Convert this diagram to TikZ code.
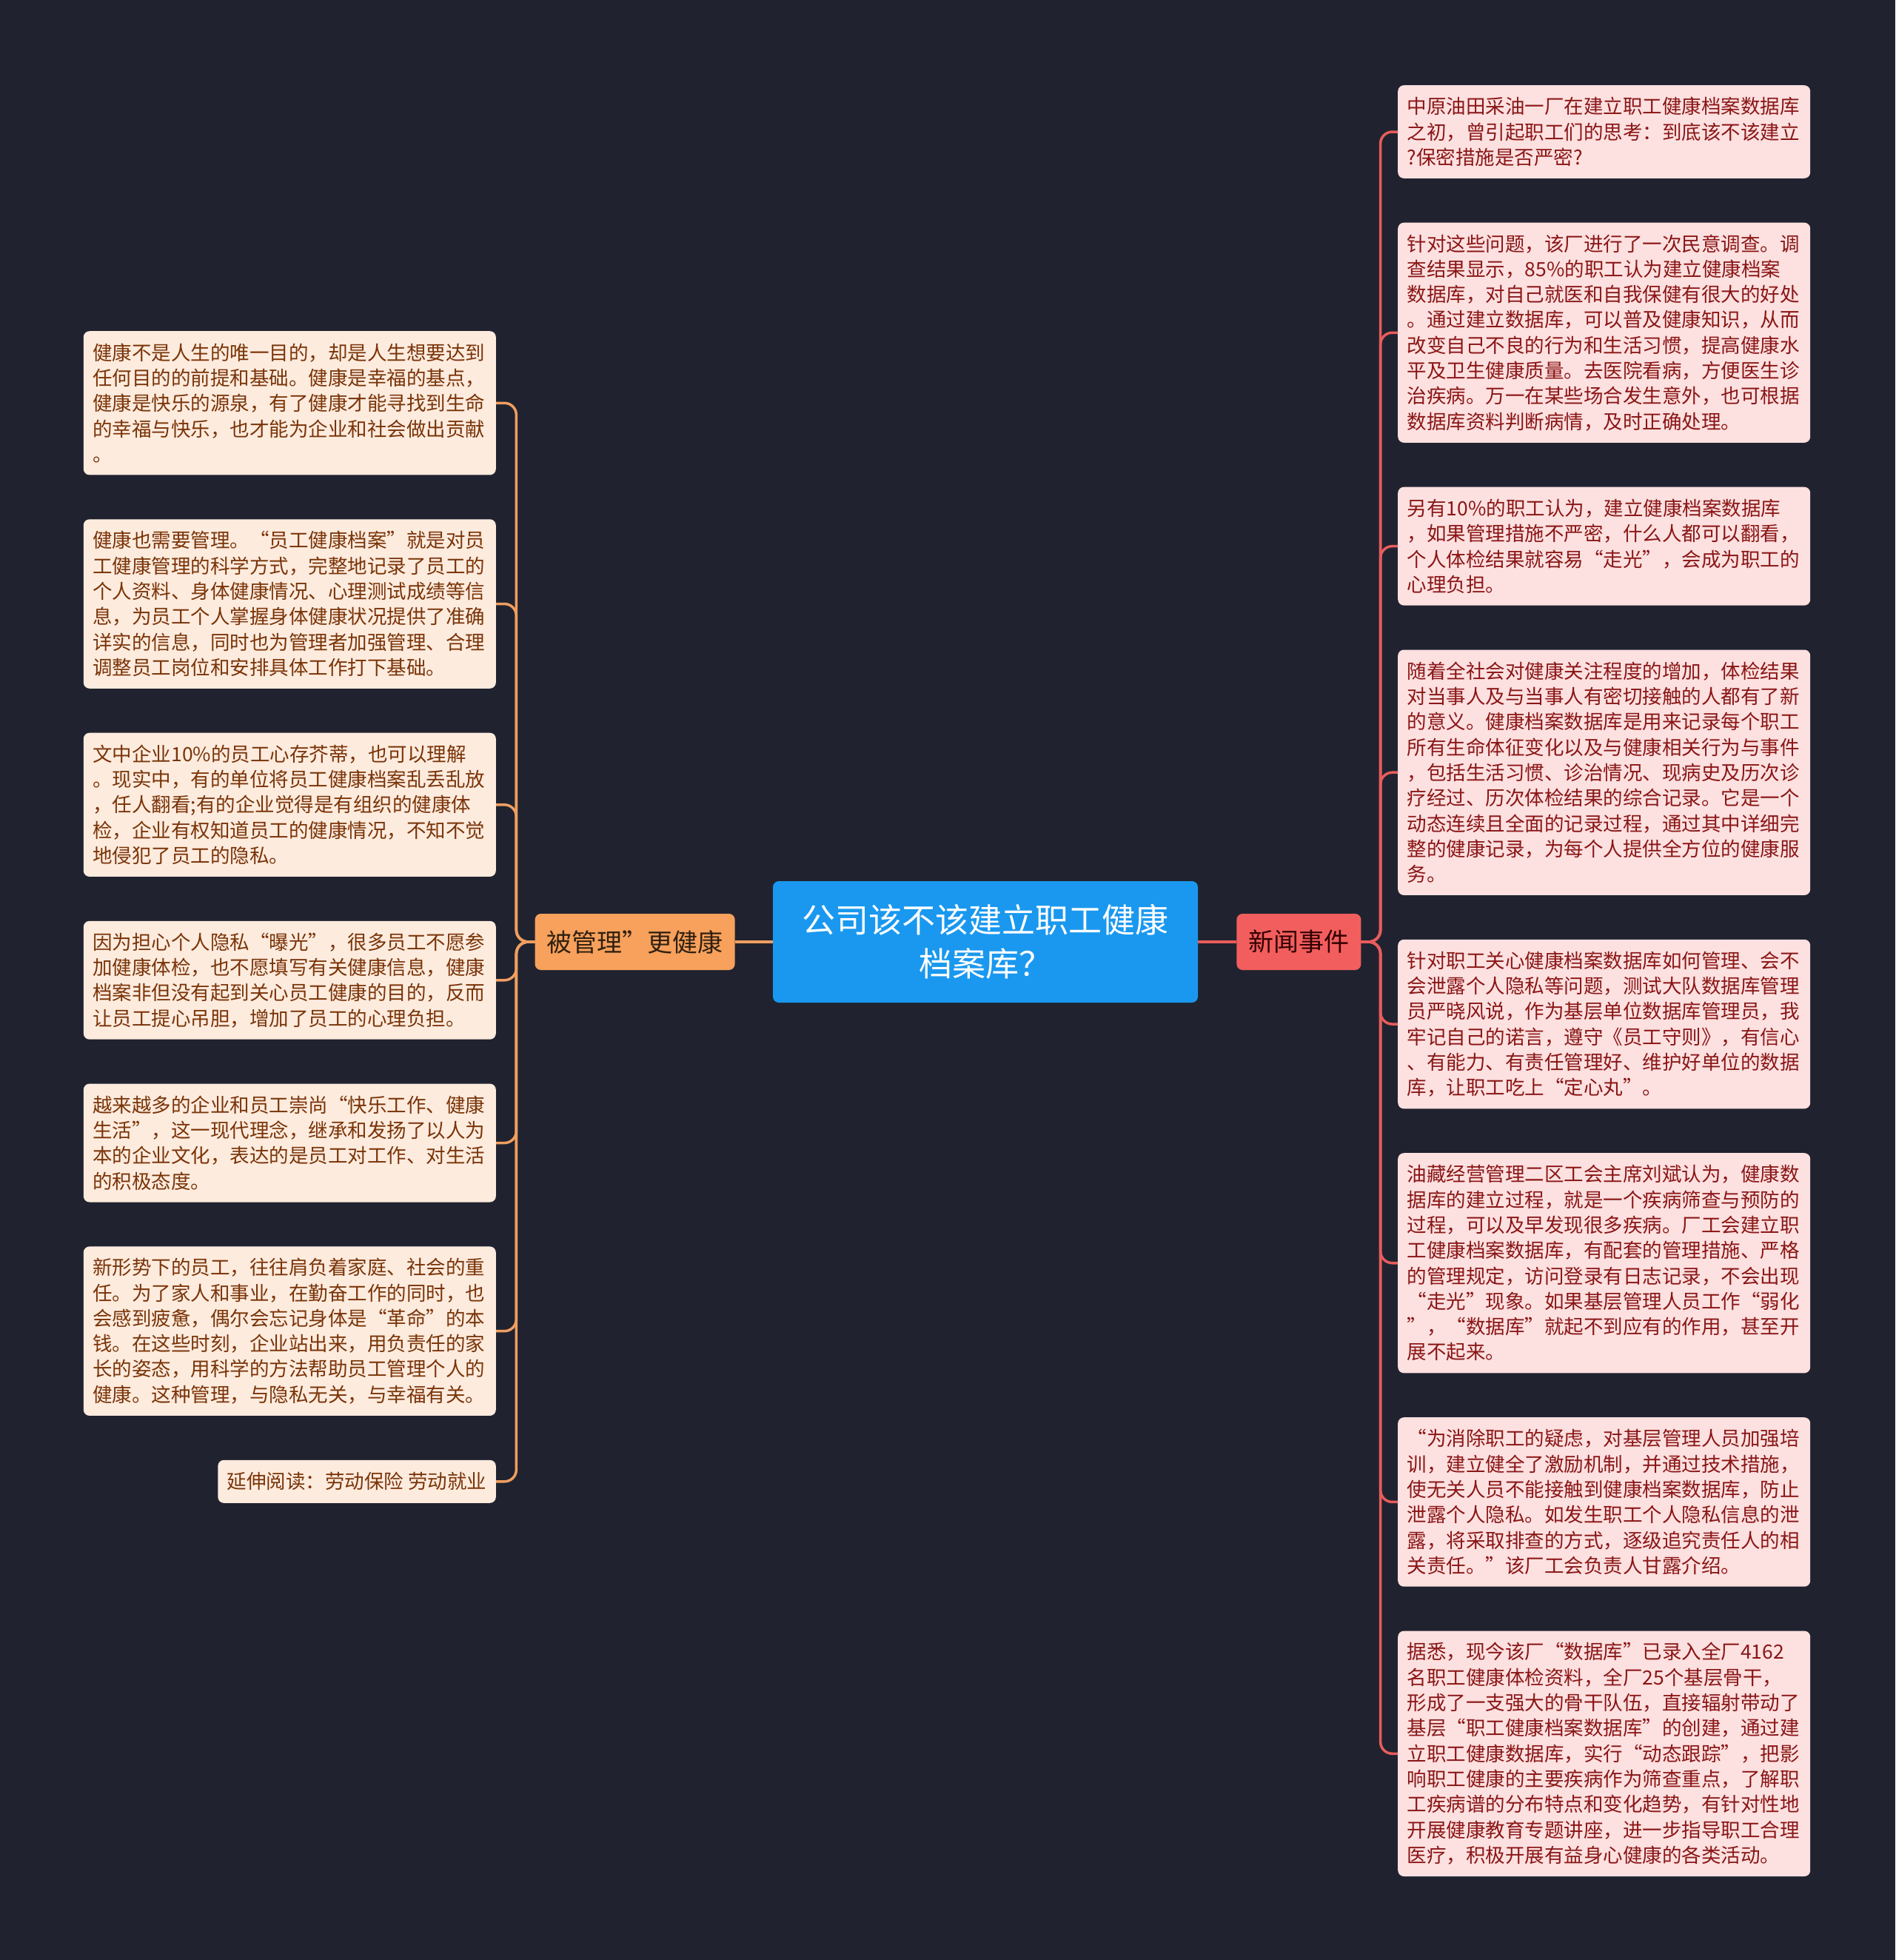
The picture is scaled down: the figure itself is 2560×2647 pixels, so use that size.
\documentclass[tikz,border=0pt]{standalone}
\usepackage{fontspec}
\setmainfont{Noto Sans CJK SC}
\usepackage{tikz}
\usetikzlibrary{positioning}
\definecolor{bgdark}{RGB}{32,35,47}
\definecolor{rootblue}{RGB}{26,152,239}
\definecolor{mgmtorange}{RGB}{247,161,92}
\definecolor{newsred}{RGB}{242,94,94}
\definecolor{lleaffill}{RGB}{253,235,222}
\definecolor{lleaftext}{RGB}{122,52,8}
\definecolor{rleaffill}{RGB}{253,224,224}
\definecolor{rleaftext}{RGB}{138,22,22}
\definecolor{llinecol}{RGB}{240,158,96}
\definecolor{rlinecol}{RGB}{232,92,92}

\begin{document}
\begin{tikzpicture}[
    x=1pt, y=-1pt,
    root/.style={rectangle, rounded corners=8pt, fill=rootblue, text=white, minimum width=574pt, minimum height=164pt, align=center, font=\fontsize{45pt}{59pt}\selectfont},
    branch/.style={rectangle, rounded corners=8pt, minimum height=76pt, inner xsep=16pt, font=\fontsize{34pt}{40pt}\selectfont},
    leaf/.style={rectangle, rounded corners=8pt, inner xsep=12.5pt, align=left, font=\fontsize{26.5pt}{34.3pt}\selectfont},
    nlines/.style={text width=532pt, minimum height={22.7pt+34.3pt*#1}},
    lleaf/.style={leaf, fill=lleaffill, text=lleaftext},
    rleaf/.style={leaf, fill=rleaffill, text=rleaftext},
    lline/.style={draw=llinecol, line width=3.5pt, rounded corners=16pt},
    rline/.style={draw=rlinecol, line width=3.5pt, rounded corners=16pt},
    node distance=59.5pt
]
    \fill[bgdark] (0,0) rectangle (2560,2647);
    \useasboundingbox (0,0) rectangle (2560,2647);

    % Central topic and the two branches
    \node[root] (root) at (1331,1272) {公司该不该建立职工健康\\档案库？};
    \node[branch, fill=newsred, text=black!80!red, right=52pt of root] (news) {新闻事件};
    \node[branch, fill=mgmtorange, text=black!75!brown, left=51pt of root] (mgmt) {被管理”更健康};
    \coordinate[left=25pt of mgmt.west] (ltrunk);
    \coordinate[right=26pt of news.east] (rtrunk);

    % Left side: 被管理更健康
    \node[lleaf, nlines=5, anchor=north east] (health) at (670,447) {健康不是人生的唯一目的，却是人生想要达到\\任何目的的前提和基础。健康是幸福的基点，\\健康是快乐的源泉，有了健康才能寻找到生命\\的幸福与快乐，也才能为企业和社会做出贡献\\。};
    \node[lleaf, nlines=6, below=of health] (manage) {健康也需要管理。“员工健康档案”就是对员\\工健康管理的科学方式，完整地记录了员工的\\个人资料、身体健康情况、心理测试成绩等信\\息，为员工个人掌握身体健康状况提供了准确\\详实的信息，同时也为管理者加强管理、合理\\调整员工岗位和安排具体工作打下基础。};
    \node[lleaf, nlines=5, below=of manage] (worry) {文中企业10\%的员工心存芥蒂，也可以理解\\。现实中，有的单位将员工健康档案乱丢乱放\\，任人翻看;有的企业觉得是有组织的健康体\\检，企业有权知道员工的健康情况，不知不觉\\地侵犯了员工的隐私。};
    \node[lleaf, nlines=4, below=of worry] (expose) {因为担心个人隐私“曝光”，很多员工不愿参\\加健康体检，也不愿填写有关健康信息，健康\\档案非但没有起到关心员工健康的目的，反而\\让员工提心吊胆，增加了员工的心理负担。};
    \node[lleaf, nlines=4, below=of expose] (culture) {越来越多的企业和员工崇尚“快乐工作、健康\\生活”，这一现代理念，继承和发扬了以人为\\本的企业文化，表达的是员工对工作、对生活\\的积极态度。};
    \node[lleaf, nlines=6, below=of culture] (duty) {新形势下的员工，往往肩负着家庭、社会的重\\任。为了家人和事业，在勤奋工作的同时，也\\会感到疲惫，偶尔会忘记身体是“革命”的本\\钱。在这些时刻，企业站出来，用负责任的家\\长的姿态，用科学的方法帮助员工管理个人的\\健康。这种管理，与隐私无关，与幸福有关。};
    \node[lleaf, minimum height=58pt, below=of duty.south east, anchor=north east] (more) {延伸阅读：劳动保险 劳动就业};

    % Right side: 新闻事件
    \node[rleaf, nlines=3, anchor=north west] (origin) at (1888,115) {中原油田采油一厂在建立职工健康档案数据库\\之初，曾引起职工们的思考：到底该不该建立\\?保密措施是否严密?};
    \node[rleaf, nlines=8, below=of origin] (survey) {针对这些问题，该厂进行了一次民意调查。调\\查结果显示，85\%的职工认为建立健康档案\\数据库，对自己就医和自我保健有很大的好处\\。通过建立数据库，可以普及健康知识，从而\\改变自己不良的行为和生活习惯，提高健康水\\平及卫生健康质量。去医院看病，方便医生诊\\治疾病。万一在某些场合发生意外，也可根据\\数据库资料判断病情，及时正确处理。};
    \node[rleaf, nlines=4, below=of survey] (concern) {另有10\%的职工认为，建立健康档案数据库\\，如果管理措施不严密，什么人都可以翻看，\\个人体检结果就容易“走光”，会成为职工的\\心理负担。};
    \node[rleaf, nlines=9, below=of concern] (record) {随着全社会对健康关注程度的增加，体检结果\\对当事人及与当事人有密切接触的人都有了新\\的意义。健康档案数据库是用来记录每个职工\\所有生命体征变化以及与健康相关行为与事件\\，包括生活习惯、诊治情况、现病史及历次诊\\疗经过、历次体检结果的综合记录。它是一个\\动态连续且全面的记录过程，通过其中详细完\\整的健康记录，为每个人提供全方位的健康服\\务。};
    \node[rleaf, nlines=6, below=of record] (admin) {针对职工关心健康档案数据库如何管理、会不\\会泄露个人隐私等问题，测试大队数据库管理\\员严晓风说，作为基层单位数据库管理员，我\\牢记自己的诺言，遵守《员工守则》，有信心\\、有能力、有责任管理好、维护好单位的数据\\库，让职工吃上“定心丸”。};
    \node[rleaf, nlines=8, below=of admin] (union) {油藏经营管理二区工会主席刘斌认为，健康数\\据库的建立过程，就是一个疾病筛查与预防的\\过程，可以及早发现很多疾病。厂工会建立职\\工健康档案数据库，有配套的管理措施、严格\\的管理规定，访问登录有日志记录，不会出现\\“走光”现象。如果基层管理人员工作“弱化\\”，“数据库”就起不到应有的作用，甚至开\\展不起来。};
    \node[rleaf, nlines=6, below=of union] (measure) {“为消除职工的疑虑，对基层管理人员加强培\\训，建立健全了激励机制，并通过技术措施，\\使无关人员不能接触到健康档案数据库，防止\\泄露个人隐私。如发生职工个人隐私信息的泄\\露，将采取排查的方式，逐级追究责任人的相\\关责任。”该厂工会负责人甘露介绍。};
    \node[rleaf, nlines=9, below=of measure] (result) {据悉，现今该厂“数据库”已录入全厂4162\\名职工健康体检资料，全厂25个基层骨干，\\形成了一支强大的骨干队伍，直接辐射带动了\\基层“职工健康档案数据库”的创建，通过建\\立职工健康数据库，实行“动态跟踪”，把影\\响职工健康的主要疾病作为筛查重点，了解职\\工疾病谱的分布特点和变化趋势，有针对性地\\开展健康教育专题讲座，进一步指导职工合理\\医疗，积极开展有益身心健康的各类活动。};

    % Connectors
    \draw[lline] (root.west) -- (mgmt.east);
    \draw[rline] (root.east) -- (news.west);
    \draw[lline] (mgmt.west) -- (ltrunk) |- (health.east);
    \draw[lline] (mgmt.west) -- (ltrunk) |- (manage.east);
    \draw[lline] (mgmt.west) -- (ltrunk) |- (worry.east);
    \draw[lline] (mgmt.west) -- (ltrunk) |- (expose.east);
    \draw[lline] (mgmt.west) -- (ltrunk) |- (culture.east);
    \draw[lline] (mgmt.west) -- (ltrunk) |- (duty.east);
    \draw[lline] (mgmt.west) -- (ltrunk) |- (more.east);
    \draw[rline] (news.east) -- (rtrunk) |- (origin.west);
    \draw[rline] (news.east) -- (rtrunk) |- (survey.west);
    \draw[rline] (news.east) -- (rtrunk) |- (concern.west);
    \draw[rline] (news.east) -- (rtrunk) |- (record.west);
    \draw[rline] (news.east) -- (rtrunk) |- (admin.west);
    \draw[rline] (news.east) -- (rtrunk) |- (union.west);
    \draw[rline] (news.east) -- (rtrunk) |- (measure.west);
    \draw[rline] (news.east) -- (rtrunk) |- (result.west);
\end{tikzpicture}
\end{document}
